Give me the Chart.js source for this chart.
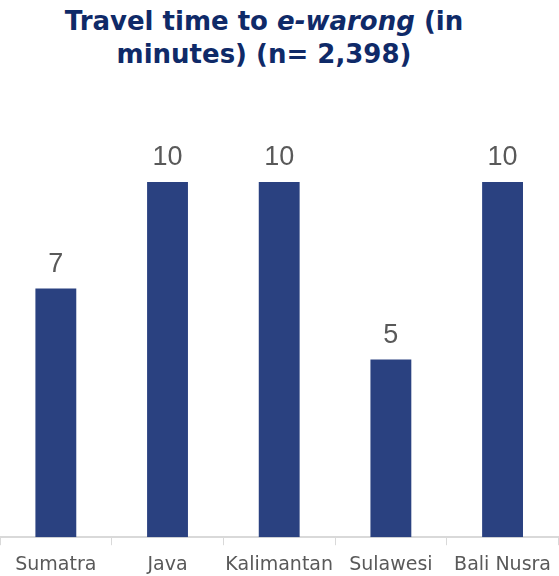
<!DOCTYPE html>
<html lang="en">
<head>
    <meta charset="UTF-8">
    <title>Travel time to e-warong</title>
    <script src="https://cdn.jsdelivr.net/npm/chart.js"></script>
    <style>
        body {
            margin: 0;
            background: #ffffff;
        }

        .wrap {
            position: relative;
            width: 559px;
            height: 576px;
        }

        .title {
            position: absolute;
            top: 5px;
            left: 0;
            width: 528px;
            text-align: center;
            font-family: 'DejaVu Sans', sans-serif;
            font-weight: bold;
            font-size: 26px;
            line-height: 33px;
            color: #0f2a68;
        }

        #chart {
            position: absolute;
            top: 0;
            left: 0;
        }
    </style>
</head>
<body>
    <div class="wrap">
        <div class="title">Travel time to <i>e-warong</i> (in<br>minutes) (n= 2,398)</div>
        <canvas id="chart" width="559" height="576"></canvas>
    </div>

    <script>
        // data
        const regions = ['Sumatra', 'Java', 'Kalimantan', 'Sulawesi', 'Bali Nusra'];
        const minutes = [7, 10, 10, 5, 10];

        // draws the value above each bar
        const valueLabels = {
            id: 'valueLabels',
            afterDatasetsDraw(chart) {
                const ctx = chart.ctx;
                const meta = chart.getDatasetMeta(0);
                ctx.save();
                ctx.font = '27px "Liberation Sans", sans-serif';
                ctx.fillStyle = '#595959';
                ctx.textAlign = 'center';
                ctx.textBaseline = 'middle';
                meta.data.forEach((bar, i) => {
                    ctx.fillText(minutes[i], bar.x, bar.y - 24);
                });
                ctx.restore();
            }
        };

        new Chart(document.getElementById('chart'), {
            type: 'bar',
            data: {
                labels: regions,
                datasets: [{
                    data: minutes,
                    backgroundColor: '#2a4180',
                    barPercentage: 0.366,
                    categoryPercentage: 1
                }]
            },
            options: {
                responsive: false,
                animation: false,
                layout: {
                    padding: { top: 111, bottom: -8, left: 0, right: 0 }
                },
                plugins: {
                    legend: { display: false },
                    tooltip: { enabled: false }
                },
                scales: {
                    y: {
                        display: false,
                        min: 0,
                        max: 12
                    },
                    x: {
                        grid: {
                            offset: true,
                            drawOnChartArea: false,
                            tickLength: 8,
                            color: '#d9d9d9'
                        },
                        border: {
                            color: '#d9d9d9',
                            width: 2
                        },
                        ticks: {
                            padding: 8,
                            autoSkip: false,
                            maxRotation: 0,
                            minRotation: 0,
                            color: '#595959',
                            font: { family: 'DejaVu Sans', size: 19 }
                        }
                    }
                }
            },
            plugins: [valueLabels]
        });
    </script>
</body>
</html>
